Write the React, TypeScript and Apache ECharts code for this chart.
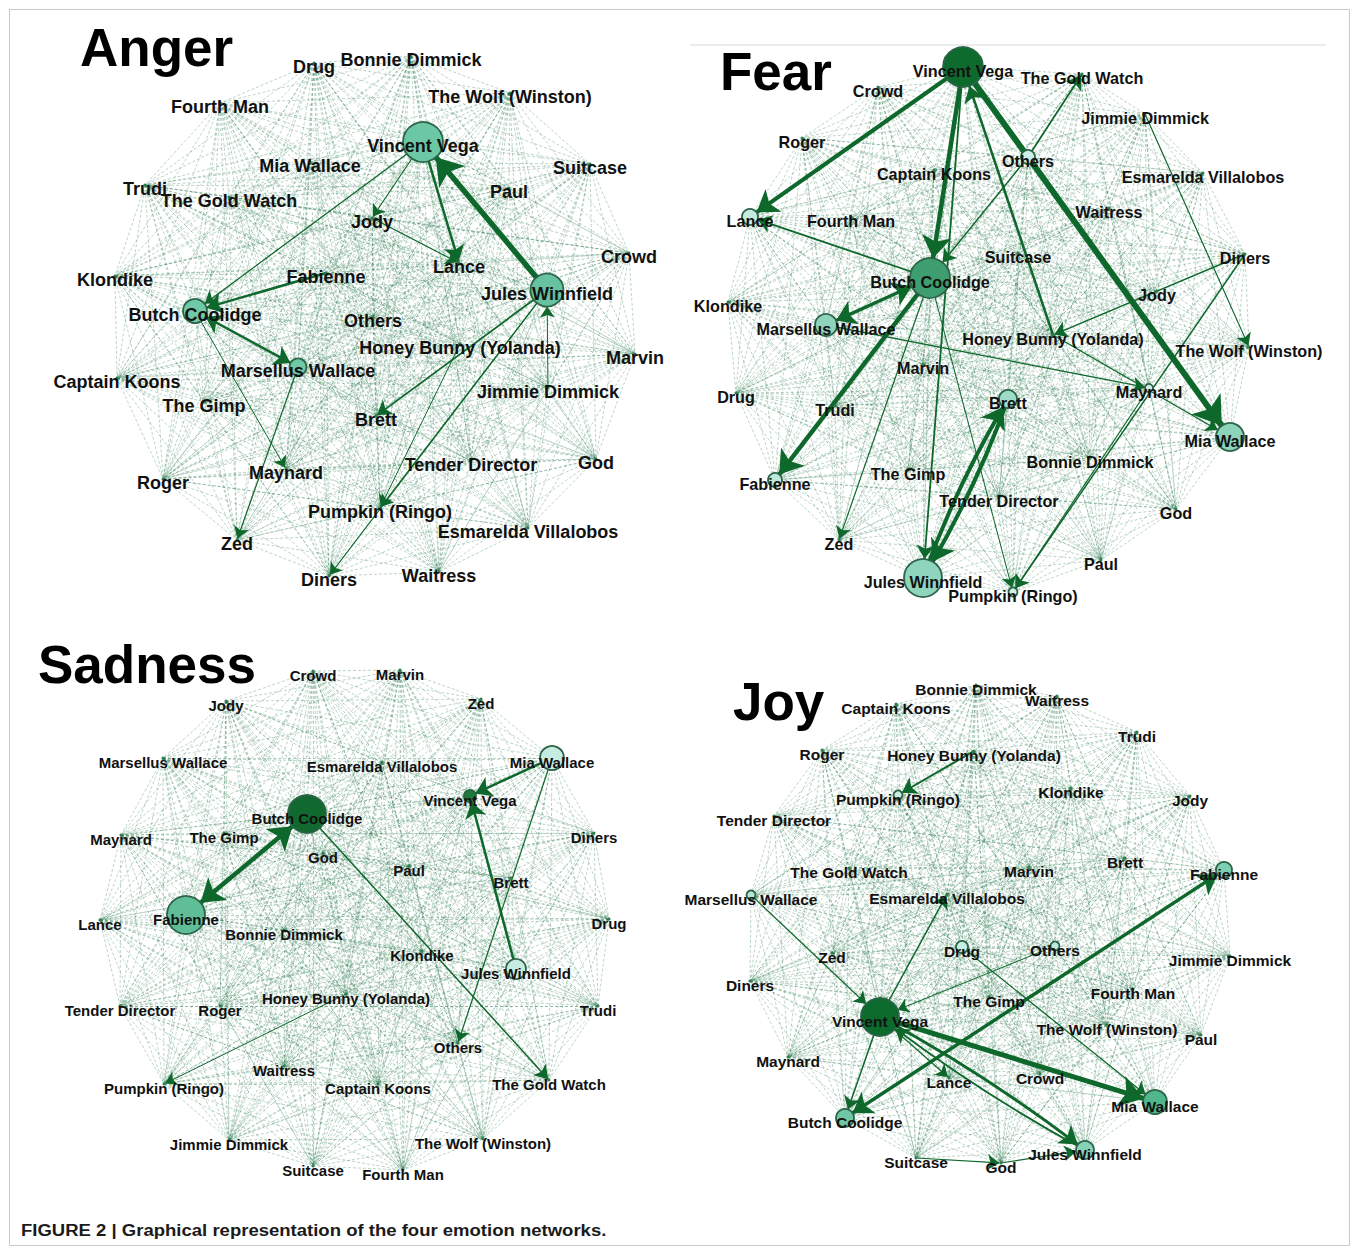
import React, { useEffect, useRef } from "react";
import * as echarts from "echarts";

// [name, x, y, circleDiameter?, fill?]
type NodeRow = [string, number, number, number?, string?];
// [source, target, width, arrowAtSource?, curveness?]
type LinkRow = [string, string, number, number?, number?];

const angerNodes: NodeRow[] = [
  ["Drug", 314, 63], ["Bonnie Dimmick", 411, 56], ["The Wolf (Winston)", 510, 93],
  ["Fourth Man", 220, 103], ["Vincent Vega", 423, 142, 40, "#6cc7a4"], ["Mia Wallace", 310, 162],
  ["Suitcase", 590, 164], ["Paul", 509, 188], ["Trudi", 145, 185], ["The Gold Watch", 229, 197],
  ["Jody", 372, 218], ["Lance", 459, 263], ["Crowd", 629, 253], ["Klondike", 115, 276],
  ["Fabienne", 326, 273], ["Jules Winnfield", 547, 290, 33, "#66c2a0"],
  ["Butch Coolidge", 195, 311, 24, "#6fc9a7"], ["Others", 373, 317],
  ["Honey Bunny (Yolanda)", 460, 344], ["Marvin", 635, 354],
  ["Marsellus Wallace", 298, 367, 17, "#6fc9a7"], ["Captain Koons", 117, 378],
  ["Jimmie Dimmick", 548, 388], ["The Gimp", 204, 402], ["Brett", 376, 416],
  ["Tender Director", 471, 461], ["God", 596, 459], ["Maynard", 286, 469], ["Roger", 163, 479],
  ["Pumpkin (Ringo)", 380, 508], ["Esmarelda Villalobos", 528, 528], ["Zed", 237, 540],
  ["Diners", 329, 576], ["Waitress", 439, 572],
];
const angerLinks: LinkRow[] = [
  ["Jules Winnfield", "Vincent Vega", 5.5], ["Vincent Vega", "Lance", 2.5],
  ["Vincent Vega", "Butch Coolidge", 1.3], ["Vincent Vega", "Jody", 1.2], ["Jody", "Lance", 1.2],
  ["Fabienne", "Butch Coolidge", 2.5], ["Butch Coolidge", "Marsellus Wallace", 2.5, 1],
  ["Jules Winnfield", "Brett", 1.8], ["Jules Winnfield", "Pumpkin (Ringo)", 1.2],
  ["Marsellus Wallace", "Zed", 1.2], ["Butch Coolidge", "Maynard", 1.0],
  ["Jimmie Dimmick", "Jules Winnfield", 1.0], ["Jules Winnfield", "Diners", 1.1],
  ["Honey Bunny (Yolanda)", "Pumpkin (Ringo)", 1.0],
];

const fearNodes: NodeRow[] = [
  ["Vincent Vega", 963, 67, 40, "#0d6b2e"], ["The Gold Watch", 1082, 74], ["Crowd", 878, 87],
  ["Jimmie Dimmick", 1145, 114], ["Roger", 802, 138], ["Others", 1028, 157, 14, "#cbeee6"],
  ["Captain Koons", 934, 170], ["Esmarelda Villalobos", 1203, 173], ["Waitress", 1109, 208],
  ["Lance", 750, 217, 16, "#c4ebe0"], ["Fourth Man", 851, 217], ["Suitcase", 1018, 253],
  ["Diners", 1245, 254], ["Butch Coolidge", 930, 278, 40, "#3f9e70"], ["Jody", 1157, 291],
  ["Klondike", 728, 302], ["Marsellus Wallace", 826, 325, 22, "#8ed4bc"],
  ["Honey Bunny (Yolanda)", 1053, 335], ["The Wolf (Winston)", 1249, 347], ["Marvin", 923, 364],
  ["Drug", 736, 393], ["Maynard", 1149, 388, 8, "#d2f0e8"], ["Brett", 1008, 399, 18, "#9fdcc8"],
  ["Trudi", 835, 406], ["Mia Wallace", 1230, 437, 28, "#8dd4bb"], ["Bonnie Dimmick", 1090, 458],
  ["Fabienne", 775, 480, 14, "#bfe8dc"], ["The Gimp", 908, 470], ["Tender Director", 999, 497],
  ["God", 1176, 509], ["Zed", 839, 540], ["Paul", 1101, 560],
  ["Jules Winnfield", 923, 578, 38, "#8fd5bd"], ["Pumpkin (Ringo)", 1013, 592, 9, "#d2f0e8"],
];
const fearLinks: LinkRow[] = [
  ["Vincent Vega", "Lance", 4], ["Vincent Vega", "Butch Coolidge", 4.5],
  ["Vincent Vega", "Mia Wallace", 6], ["Honey Bunny (Yolanda)", "Vincent Vega", 2.5],
  ["Vincent Vega", "Jules Winnfield", 1.8], ["Jules Winnfield", "Brett", 4, 0, 0.05],
  ["Brett", "Jules Winnfield", 4, 0, 0.05], ["Butch Coolidge", "Marsellus Wallace", 3.5, 1],
  ["Butch Coolidge", "Fabienne", 4.5], ["Butch Coolidge", "Lance", 1.8],
  ["Others", "The Gold Watch", 1.8], ["Others", "Butch Coolidge", 1.5],
  ["Diners", "Honey Bunny (Yolanda)", 1.5], ["Diners", "Pumpkin (Ringo)", 1.5],
  ["Jimmie Dimmick", "The Wolf (Winston)", 1.2], ["Honey Bunny (Yolanda)", "Mia Wallace", 1.3],
  ["Marsellus Wallace", "Maynard", 1.3], ["Butch Coolidge", "Zed", 1.2],
  ["Maynard", "Pumpkin (Ringo)", 1.2], ["Butch Coolidge", "Pumpkin (Ringo)", 1.0],
];

const sadnessNodes: NodeRow[] = [
  ["Crowd", 313, 671], ["Marvin", 400, 670], ["Jody", 226, 701], ["Zed", 481, 699],
  ["Marsellus Wallace", 163, 758], ["Esmarelda Villalobos", 382, 762],
  ["Mia Wallace", 552, 758, 24, "#c6ece2"], ["Vincent Vega", 470, 796, 12, "#1e7a3c"],
  ["Butch Coolidge", 307, 814, 38, "#12692f"], ["Maynard", 121, 835], ["The Gimp", 224, 833],
  ["Diners", 594, 833], ["God", 323, 853], ["Paul", 409, 866], ["Brett", 511, 878],
  ["Fabienne", 186, 915, 38, "#5fbe98"], ["Lance", 100, 920], ["Drug", 609, 919],
  ["Bonnie Dimmick", 284, 930], ["Klondike", 422, 951],
  ["Jules Winnfield", 516, 969, 20, "#c6ece2"], ["Tender Director", 120, 1006],
  ["Roger", 220, 1006], ["Honey Bunny (Yolanda)", 346, 994], ["Trudi", 598, 1006],
  ["Others", 458, 1043], ["Waitress", 284, 1066], ["Pumpkin (Ringo)", 164, 1084],
  ["Captain Koons", 378, 1084], ["The Gold Watch", 549, 1080], ["Jimmie Dimmick", 229, 1140],
  ["The Wolf (Winston)", 483, 1139], ["Suitcase", 313, 1166], ["Fourth Man", 403, 1170],
];
const sadnessLinks: LinkRow[] = [
  ["Butch Coolidge", "Fabienne", 4.5, 1], ["Mia Wallace", "Vincent Vega", 2.5],
  ["Jules Winnfield", "Vincent Vega", 2.5], ["Butch Coolidge", "The Gold Watch", 1.5],
  ["Mia Wallace", "Others", 1.2], ["Honey Bunny (Yolanda)", "Pumpkin (Ringo)", 1.0],
];

const joyNodes: NodeRow[] = [
  ["Bonnie Dimmick", 976, 685], ["Waitress", 1057, 696], ["Captain Koons", 896, 704],
  ["Trudi", 1137, 732], ["Roger", 822, 750], ["Honey Bunny (Yolanda)", 974, 751],
  ["Klondike", 1071, 788], ["Pumpkin (Ringo)", 898, 795, 9, "#c8ede2"], ["Jody", 1190, 796],
  ["Tender Director", 774, 816], ["The Gold Watch", 849, 868], ["Marvin", 1029, 867],
  ["Brett", 1125, 858], ["Fabienne", 1224, 870, 16, "#7fcfb2"],
  ["Marsellus Wallace", 751, 895, 9, "#b7e6d8"], ["Esmarelda Villalobos", 947, 894],
  ["Zed", 832, 953], ["Drug", 962, 947, 12, "#c8ede2"], ["Others", 1055, 946, 9, "#bde9dc"],
  ["Jimmie Dimmick", 1230, 956], ["Diners", 750, 981], ["Fourth Man", 1133, 989],
  ["The Gimp", 989, 997], ["Vincent Vega", 880, 1017, 38, "#0c6a2d"],
  ["The Wolf (Winston)", 1107, 1025], ["Paul", 1201, 1035], ["Maynard", 788, 1057],
  ["Lance", 949, 1078], ["Crowd", 1040, 1074], ["Mia Wallace", 1155, 1102, 24, "#52b68c"],
  ["Butch Coolidge", 845, 1118, 18, "#6fc7a5"], ["Jules Winnfield", 1085, 1150, 18, "#86d1b7"],
  ["Suitcase", 916, 1158], ["God", 1001, 1163],
];
const joyLinks: LinkRow[] = [
  ["Vincent Vega", "Mia Wallace", 5], ["Vincent Vega", "Jules Winnfield", 3, 0, 0.04],
  ["Jules Winnfield", "Vincent Vega", 1.8, 0, 0.04], ["Butch Coolidge", "Fabienne", 3.5, 1],
  ["Honey Bunny (Yolanda)", "Pumpkin (Ringo)", 2], ["Vincent Vega", "Esmarelda Villalobos", 1.5],
  ["Vincent Vega", "Butch Coolidge", 1.5], ["Marsellus Wallace", "Vincent Vega", 1.2],
  ["Drug", "Mia Wallace", 1.3], ["Suitcase", "God", 1.2], ["God", "Jules Winnfield", 1.2],
  ["Vincent Vega", "Lance", 1.2], ["Others", "Vincent Vega", 1.0],
];

const panelTitles = ["Anger", "Fear", "Sadness", "Joy"];
const caption = "FIGURE 2 | Graphical representation of the four emotion networks.";

const FONT = "'Liberation Sans', Arial, Helvetica, sans-serif";

function buildSeries(nodes: NodeRow[], heavy: LinkRow[], fontSize: number) {
  const data = nodes.map(([name, x, y, size, color]) => ({
    name,
    value: [x, y],
    symbol: "circle",
    symbolSize: size ? size : 3,
    itemStyle: size
      ? { color, borderColor: "#2c6447", borderWidth: 1.8 }
      : { color: "#2f7d4d", borderWidth: 0 },
  }));
  const heavyKeys = new Set<string>();
  heavy.forEach(([s, t]) => {
    heavyKeys.add(s + "|" + t);
    heavyKeys.add(t + "|" + s);
  });
  const links: any[] = [];
  for (let i = 0; i < nodes.length; i++) {
    for (let j = i + 1; j < nodes.length; j++) {
      const a = nodes[i][0];
      const b = nodes[j][0];
      if (heavyKeys.has(a + "|" + b)) continue;
      links.push({ source: a, target: b });
    }
  }
  heavy.forEach(([s, t, w, both, curv]) => {
    const arrow = 8 + w * 3.2;
    links.push({
      source: s,
      target: t,
      symbol: [both ? "arrow" : "none", "arrow"],
      symbolSize: [arrow, arrow],
      lineStyle: {
        width: w,
        color: "#0e672b",
        opacity: 1,
        type: "solid",
        curveness: curv || 0,
      },
    });
  });
  return {
    type: "graph",
    coordinateSystem: "cartesian2d",
    layout: "none",
    data,
    links,
    silent: true,
    animation: false,
    emphasis: { disabled: true },
    edgeSymbol: ["none", "none"],
    lineStyle: { color: "#2b7a4b", width: 0.7, opacity: 0.45, type: [3, 2] },
    label: {
      show: true,
      position: "inside",
      offset: [0, 4],
      fontSize,
      fontWeight: "bold",
      color: "#111111",
      fontFamily: FONT,
    },
  };
}

export default function App() {
  const ref = useRef<HTMLDivElement>(null);
  useEffect(() => {
    if (!ref.current) return;
    const chart = echarts.init(ref.current, undefined, { renderer: "svg" });
    const titleStyle = (text: string, x: number, y: number) => ({
      type: "text",
      z: 100,
      style: {
        text,
        x,
        y,
        fill: "#000",
        font: `bold 53px ${FONT}`,
        verticalAlign: "middle",
        align: "left",
      },
    });
    chart.setOption({
      animation: false,
      backgroundColor: "#ffffff",
      grid: { left: 0, right: 0, top: 0, bottom: 0 },
      xAxis: { type: "value", min: 0, max: 1358, show: false },
      yAxis: { type: "value", min: 0, max: 1250, inverse: true, show: false },
      series: [
        buildSeries(angerNodes, angerLinks, 18),
        buildSeries(fearNodes, fearLinks, 16.2),
        buildSeries(sadnessNodes, sadnessLinks, 15),
        buildSeries(joyNodes, joyLinks, 15.5),
      ],
      graphic: [
        {
          type: "rect",
          z: 0,
          shape: { x: 9.5, y: 9.5, width: 1340, height: 1236 },
          style: { fill: "none", stroke: "#c9c9c9", lineWidth: 1 },
        },
        {
          type: "line",
          z: 0,
          shape: { x1: 690, y1: 45, x2: 1326, y2: 45 },
          style: { stroke: "#ececec", lineWidth: 2 },
        },
        titleStyle(panelTitles[0], 80, 47),
        titleStyle(panelTitles[1], 720, 71),
        titleStyle(panelTitles[2], 38, 664),
        titleStyle(panelTitles[3], 733, 701),
        {
          type: "text",
          z: 100,
          x: 21,
          y: 1230,
          scaleX: 1.09,
          style: {
            text: caption,
            x: 0,
            y: 0,
            fill: "#1a1a1a",
            font: `bold 17px ${FONT}`,
            verticalAlign: "middle",
            align: "left",
          },
        },
      ],
    });
    return () => chart.dispose();
  }, []);
  return (
    <div
      ref={ref}
      style={{ position: "absolute", left: 0, top: 0, width: 1358, height: 1250 }}
    />
  );
}
